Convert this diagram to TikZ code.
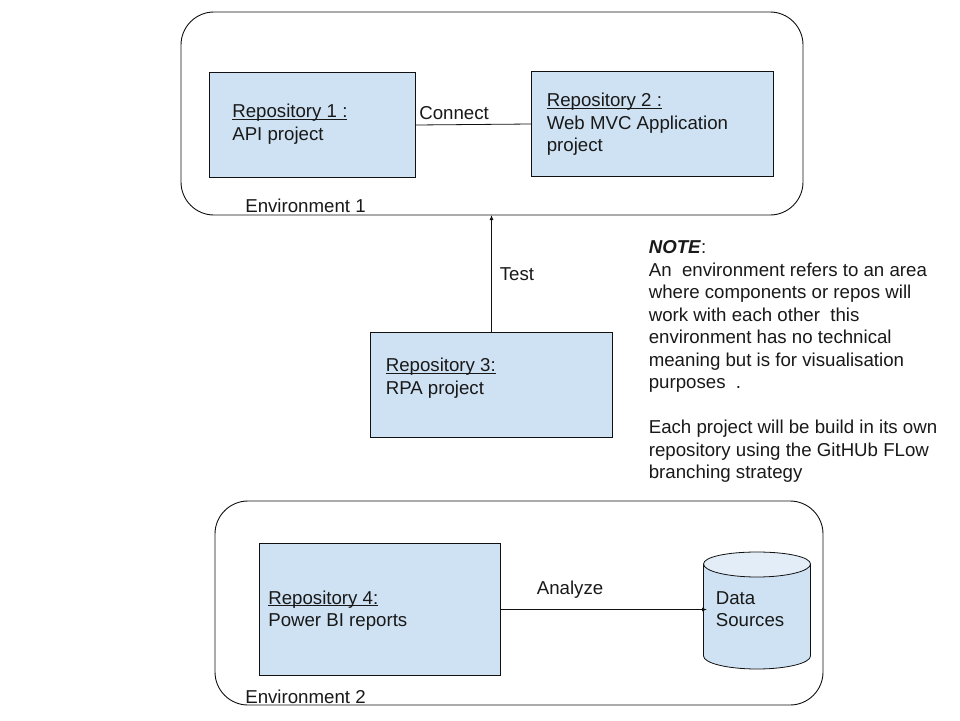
\documentclass[tikz,border=0pt]{standalone}
\usepackage{fontspec}
\setmainfont{Liberation Sans}
\usetikzlibrary{arrows.meta}
\definecolor{boxfill}{HTML}{CFE2F3}
\definecolor{cyltop}{HTML}{E2EDF8}
\definecolor{linec}{HTML}{111111}
\tikzset{
  x=1pt,y=-1pt,
  envbox/.style={draw=linec,line width=0.9pt,rounded corners=33pt,fill=white},
  repobox/.style={draw=linec,line width=0.8pt,fill=boxfill,anchor=north west,inner sep=0pt,outer sep=0pt},
  txt/.style={anchor=base west,inner sep=0pt,outer sep=0pt,font=\fontsize{18.67}{22}\selectfont,text=black!90},
  link/.style={draw=linec,line width=0.8pt},
  arrowlink/.style={link,-{Latex[length=5pt,width=4pt]}},
}
\newsavebox{\rubox}
\newcommand{\ru}[1]{\sbox{\rubox}{#1}\usebox{\rubox}\llap{\rule[-2.2pt]{\wd\rubox}{0.9pt}}}
\begin{document}
\begin{tikzpicture}
\useasboundingbox (0,0) rectangle (960,720);
\fill[white] (0,0) rectangle (960,720);
% environments
\draw[envbox] (181,12) rectangle (803,215);
\draw[envbox] (215,501) rectangle (823,705);
\coordinate (env1bottom) at (491.5,215);
% boxes
\node[repobox,minimum width=206pt,minimum height=105pt] (r1) at (209.5,72.5) {};
\node[repobox,minimum width=242pt,minimum height=105pt] (r2) at (531.5,71.5) {};
\node[repobox,minimum width=242pt,minimum height=105pt] (r3) at (370.5,332.5) {};
\node[repobox,minimum width=241pt,minimum height=132pt] (r4) at (259.5,543.5) {};
% box text
\node[txt] (t1a) at (232.3,117.4) {\ru{Repository 1 :}};
\node[txt] (t1b) at (232.3,140) {API project};
\node[txt] (t2a) at (546.8,106.6) {\ru{Repository 2 :}};
\node[txt] (t2b) at (546.8,129) {Web MVC Application};
\node[txt] (t2c) at (546.8,151) {project};
\node[txt] (t3a) at (385.8,371.6) {\ru{Repository 3:}};
\node[txt] (t3b) at (385.8,394) {RPA project};
\node[txt] (t4a) at (268.3,604) {\ru{Repository 4:}};
\node[txt] (t4b) at (268.3,626) {Power BI reports};
% cylinder
\path[fill=boxfill,draw=linec,line width=0.8pt] (703.5,564) -- (703.5,656)
  .. controls (703.5,663) and (727,669) .. (757,669)
  .. controls (787,669) and (810.5,663) .. (810.5,656) -- (810.5,564);
\path[fill=cyltop,draw=linec,line width=0.8pt] (757,552)
  .. controls (787,552) and (810.5,557) .. (810.5,564)
  .. controls (810.5,571) and (787,577) .. (757,577)
  .. controls (727,577) and (703.5,571) .. (703.5,564)
  .. controls (703.5,557) and (727,552) .. (757,552) -- cycle;
\coordinate (cyl) at (707,609.5);
\node[txt] (ds1) at (715.8,604) {Data};
\node[txt] (ds2) at (715.8,626) {Sources};
% connectors
\draw[link] (r1.east |- 0,125) coordinate (c1) -- (r2.west |- 0,124) coordinate (c2);
\draw[arrowlink] (r3.north -| 491.5,0) coordinate (c3) -- (env1bottom);
\draw[arrowlink] (r4.east |- cyl) -- (cyl);
% labels
\node[txt] (connect) at (419.3,119.6) {Connect};
\node[txt] (test) at (499.8,280) {Test};
\node[txt] (analyze) at (536.8,594.6) {Analyze};
\node[txt] (e1) at (245.3,212) {Environment 1};
\node[txt] (e2) at (245.3,703) {Environment 2};
% note
\node[txt] (n0) at (648.8,253) {\textit{\textbf{NOTE}}:};
\node[txt] (n1) at (648.8,276) {An\ \ environment refers to an area};
\node[txt] (n2) at (648.8,298) {where components or repos will};
\node[txt] (n3) at (648.8,321) {work with each other\ \ this};
\node[txt] (n4) at (648.8,343) {environment has no technical};
\node[txt] (n5) at (648.8,366) {meaning but is for visualisation};
\node[txt] (n6) at (648.8,388) {purposes\ \ .};
\node[txt] (n7) at (648.8,433) {Each project will be build in its own};
\node[txt] (n8) at (648.8,456) {repository using the GitHUb FLow};
\node[txt] (n9) at (648.8,478) {branching strategy};
\end{tikzpicture}
\end{document}
